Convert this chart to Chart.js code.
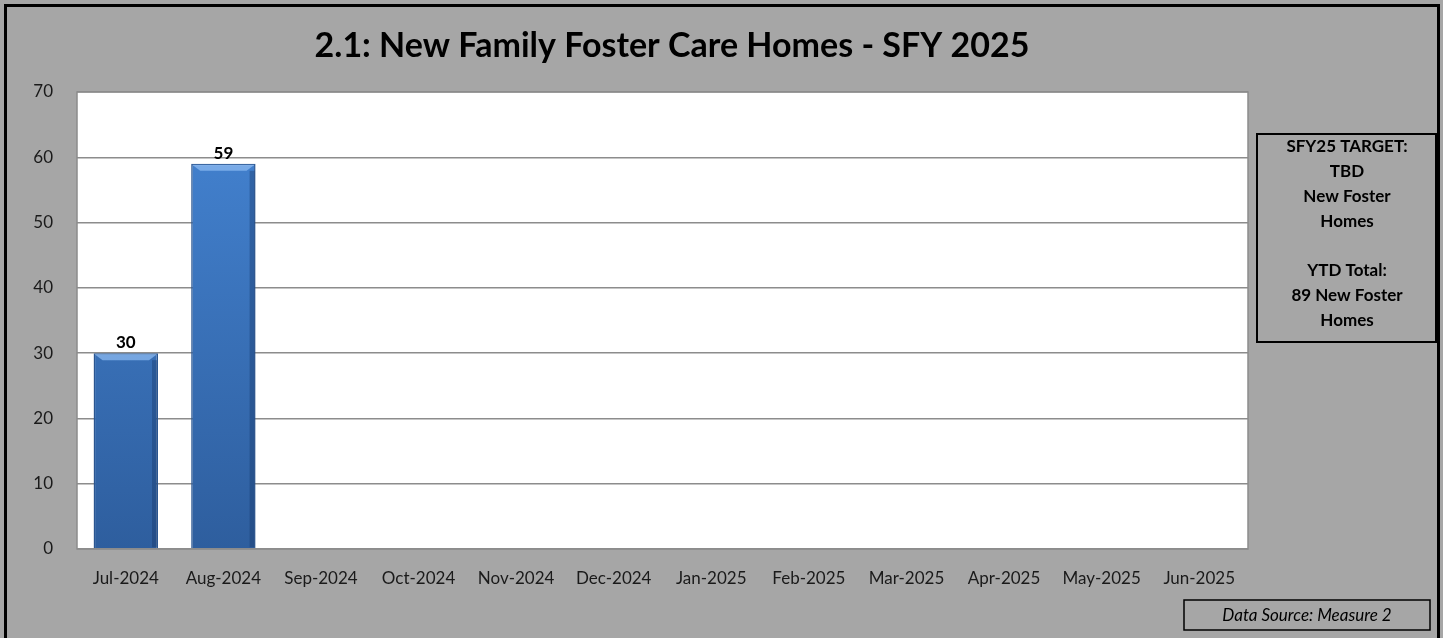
<!DOCTYPE html>
<html>
<head>
<meta charset="utf-8">
<script src="https://cdn.jsdelivr.net/npm/chart.js@4"></script>
<style>
  html, body { margin: 0; padding: 0; background: #a6a6a6; }
  #wrap { width: 1443px; height: 638px; }
</style>
</head>
<body>
<div id="wrap"><canvas id="fosterHomes" width="1443" height="638"></canvas></div>
<script>
// data
var months = ["Jul-2024", "Aug-2024", "Sep-2024", "Oct-2024", "Nov-2024", "Dec-2024",
    "Jan-2025", "Feb-2025", "Mar-2025", "Apr-2025", "May-2025", "Jun-2025"];
var newHomes = [30, 59, null, null, null, null, null, null, null, null, null, null];
var chartTitle = "2.1: New Family Foster Care Homes - SFY 2025";
var targetLines = ["SFY25 TARGET:", "TBD", "New Foster", "Homes", "", "YTD Total:", "89 New Foster", "Homes"];
var sourceNote = "Data Source: Measure 2";

var FONT = "Lato, 'Open Sans', sans-serif";

// frame, title, side boxes and value labels
var decorations = {
    id: 'decorations',
    beforeDraw: function (chart) {
        var c = chart.ctx, a = chart.chartArea;
        c.save();
        c.fillStyle = '#a6a6a6';
        c.fillRect(0, 0, chart.width, chart.height);
        c.fillStyle = '#ffffff';
        c.fillRect(a.left, a.top, a.right - a.left, a.bottom - a.top);
        c.restore();
    },
    afterDatasetsDraw: function (chart) {
        // bevel highlight on top of each bar
        var c = chart.ctx;
        var meta = chart.getDatasetMeta(0);
        c.save();
        meta.data.forEach(function (bar, i) {
            if (newHomes[i] == null) return;
            var w = bar.width, l = bar.x - w / 2, r = bar.x + w / 2, t = bar.y;
            c.fillStyle = 'rgba(140,185,240,0.75)';
            c.beginPath();
            c.moveTo(l + 1, t + 1);
            c.lineTo(r - 1, t + 1);
            c.lineTo(r - 9, t + 7);
            c.lineTo(l + 9, t + 7);
            c.closePath();
            c.fill();
            c.fillStyle = 'rgba(20,50,95,0.35)';
            c.fillRect(r - 6, t + 7, 5, bar.base - t - 8);
        });
        c.restore();
    },
    afterDraw: function (chart) {
        var c = chart.ctx, a = chart.chartArea;
        c.save();
        // plot border
        c.strokeStyle = '#8c8c8c';
        c.lineWidth = 1.5;
        c.strokeRect(a.left, a.top, a.right - a.left, a.bottom - a.top);
        // outer frame (open at the bottom edge)
        c.strokeStyle = '#000';
        c.lineWidth = 3;
        c.beginPath();
        c.moveTo(5.5, chart.height);
        c.lineTo(5.5, 5.5);
        c.lineTo(chart.width - 4.5, 5.5);
        c.lineTo(chart.width - 4.5, chart.height);
        c.stroke();
        // title
        c.fillStyle = '#000';
        c.textAlign = 'center';
        c.textBaseline = 'middle';
        c.font = "bold 34px " + FONT;
        c.fillText(chartTitle, 672, 46);
        // target box
        c.lineWidth = 2;
        c.strokeRect(1257, 134, 179, 208);
        c.font = "bold 17px " + FONT;
        targetLines.forEach(function (t, i) {
            c.fillText(t, 1347, 147 + i * 24.8);
        });
        // data source box
        c.lineWidth = 1.5;
        c.strokeRect(1184, 600, 246, 30);
        c.font = "italic 17px " + FONT;
        c.fillText(sourceNote, 1307, 616);
        // value labels
        var meta = chart.getDatasetMeta(0);
        c.font = "bold 17px " + FONT;
        c.textBaseline = 'bottom';
        meta.data.forEach(function (bar, i) {
            if (newHomes[i] == null) return;
            c.fillText(newHomes[i], bar.x, bar.y - 2);
        });
        c.restore();
    }
};

var ctx = document.getElementById("fosterHomes").getContext('2d');
var fosterChart = new Chart(ctx, {
    type: 'bar',
    data: {
        labels: months,
        datasets: [{
            label: 'New Foster Homes',
            data: newHomes,
            backgroundColor: function (context) {
                var chart = context.chart, a = chart.chartArea;
                if (!a) return '#3e78c2';
                var g = chart.ctx.createLinearGradient(0, a.top, 0, a.bottom);
                g.addColorStop(0, '#4585d4');
                g.addColorStop(1, '#2e5e9e');
                return g;
            },
            borderColor: '#2a5590',
            borderWidth: 1.5,
            barPercentage: 0.66,
            categoryPercentage: 1
        }]
    },
    options: {
        responsive: false,
        animation: false,
        layout: { padding: { left: 4, top: 92, right: 195, bottom: 0 } },
        plugins: {
            legend: { display: false },
            tooltip: { enabled: false }
        },
        scales: {
            x: {
                grid: { display: false, drawTicks: false },
                border: { display: false },
                ticks: { color: '#1a1a1a', font: { family: FONT, size: 17 }, padding: 19, maxRotation: 0 },
                afterFit: function (scale) { scale.height = 89; }
            },
            y: {
                min: 0,
                max: 70,
                grid: { color: '#8c8c8c', lineWidth: 1.5, drawTicks: false },
                border: { display: false },
                ticks: { stepSize: 10, color: '#1a1a1a', font: { family: FONT, size: 17 }, padding: 24 },
                afterFit: function (scale) { scale.width = 73; }
            }
        }
    },
    plugins: [decorations]
});
</script>
</body>
</html>
